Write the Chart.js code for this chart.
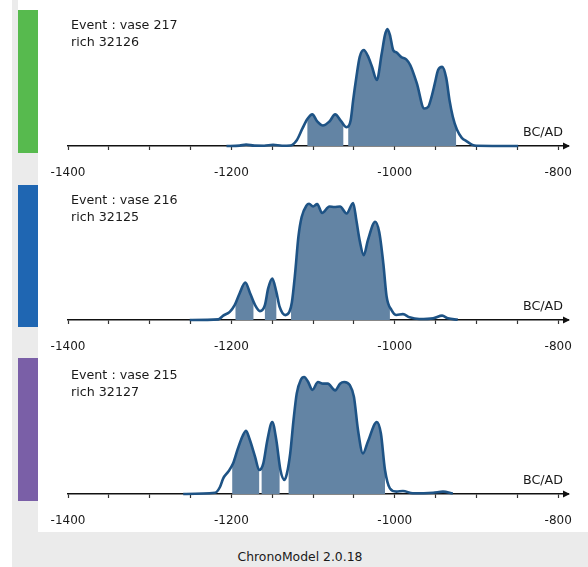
<!DOCTYPE html>
<html>
<head>
<meta charset="utf-8">
<script src="https://cdn.jsdelivr.net/npm/chart.js@4.4.1/dist/chart.umd.min.js"></script>
<style>
  html, body { margin: 0; padding: 0; background: #fff; }
  body {
    width: 588px; height: 567px; position: relative; overflow: hidden;
    font-family: "DejaVu Sans", sans-serif; font-size: 12.7px; color: #1a1a1a;
  }
  .grey { position: absolute; background: #ebebeb; }
  .bar { position: absolute; left: 18px; width: 20px; }
  canvas.panel { position: absolute; left: 38px; }
  .label { position: absolute; left: 71px; line-height: 16.5px; white-space: nowrap; }
  .era { position: absolute; left: 523px; line-height: 16px; }
  .footer { position: absolute; left: 12px; width: 576px; top: 549px; line-height: 16px; text-align: center; font-size: 12.4px; }
</style>
</head>
<body>
<div class="grey" style="left:12px;top:0;width:6px;height:567px"></div>
<div class="grey" style="left:12px;top:10px;width:26px;height:557px"></div>
<div class="grey" style="left:12px;top:532px;width:576px;height:35px"></div>

<div class="bar" style="top:10px;height:143px;background:#57ba4e"></div>
<div class="bar" style="top:185px;height:142px;background:#1f66b2"></div>
<div class="bar" style="top:358px;height:143px;background:#7a5fa7"></div>

<canvas class="panel" id="p1" width="550" height="180" style="top:6px"></canvas>
<canvas class="panel" id="p2" width="550" height="180" style="top:180px"></canvas>
<canvas class="panel" id="p3" width="550" height="180" style="top:354px"></canvas>

<div class="label" style="top:17px">Event : vase 217<br>rich 32126</div>
<div class="label" style="top:192px">Event : vase 216<br>rich 32125</div>
<div class="label" style="top:367px">Event : vase 215<br>rich 32127</div>

<div class="era" style="top:124px">BC/AD</div>
<div class="era" style="top:298px">BC/AD</div>
<div class="era" style="top:472px">BC/AD</div>

<div class="footer">ChronoModel 2.0.18</div>

<script>
// Calendar axis: minor ticks every 50 years, labels every 200 years
const tickValues = [-1400, -1350, -1300, -1250, -1200, -1150, -1100, -1050, -1000, -950, -900, -850, -800];
const tickLabels = [-1400, -1200, -1000, -800];

// vase 217 / rich 32126 : posterior density (normalised) and HPD intervals
const years217 = [-1206, -1190, -1182, -1172, -1160, -1149, -1138, -1128, -1120, -1113, -1107, -1101, -1095, -1088, -1080, -1073, -1066, -1059, -1054, -1051, -1047, -1043, -1038, -1033, -1028, -1022, -1016, -1012, -1009, -1006, -1002, -998, -992, -986, -981, -973, -964, -959, -955, -951, -947, -942, -937, -933, -929, -924, -918, -912, -905, -900, -849];
const dens217 = [0, 0.003, 0.012, 0.003, 0.002, 0.01, 0.002, 0.004, 0.05, 0.15, 0.23, 0.27, 0.21, 0.175, 0.21, 0.27, 0.215, 0.16, 0.22, 0.39, 0.59, 0.76, 0.82, 0.77, 0.68, 0.565, 0.79, 0.95, 1.0, 0.95, 0.82, 0.8, 0.76, 0.74, 0.69, 0.535, 0.32, 0.336, 0.42, 0.535, 0.65, 0.676, 0.58, 0.39, 0.25, 0.14, 0.07, 0.04, 0.01, 0.002, 0];
const hpd217 = [[-1107, -1063], [-1057, -925]];

// vase 216 / rich 32125
const years216 = [-1251, -1216, -1210, -1202, -1196, -1190, -1183, -1177, -1171, -1165, -1159, -1155, -1150, -1145, -1141, -1134, -1129, -1126, -1122, -1118, -1114, -1108, -1105, -1100, -1095, -1089, -1080, -1074, -1067, -1059, -1051, -1047, -1043, -1038, -1033, -1024, -1019, -1014, -1010, -1004, -998, -990, -982, -970, -953, -942, -935, -923];
const dens216 = [0, 0.005, 0.037, 0.07, 0.127, 0.227, 0.32, 0.227, 0.127, 0.076, 0.127, 0.27, 0.354, 0.24, 0.113, 0.042, 0.07, 0.15, 0.4, 0.71, 0.88, 0.98, 0.994, 0.97, 0.99, 0.915, 0.97, 0.966, 0.97, 0.91, 1.0, 0.85, 0.68, 0.554, 0.68, 0.84, 0.75, 0.48, 0.2, 0.085, 0.043, 0.05, 0.023, 0.008, 0.014, 0.037, 0.014, 0.003];
const hpd216 = [[-1195, -1173], [-1159, -1145], [-1127, -1006]];

// vase 215 / rich 32127
const years215 = [-1259, -1220, -1214, -1210, -1204, -1198, -1192, -1186, -1182, -1178, -1171, -1166, -1161, -1156, -1150, -1145, -1140, -1135, -1132, -1128, -1124, -1120, -1115, -1111, -1106, -1101, -1094, -1088, -1082, -1073, -1067, -1062, -1055, -1050, -1045, -1039, -1033, -1022, -1017, -1012, -1006, -998, -990, -978, -953, -941, -929];
const dens215 = [0, 0.01, 0.06, 0.134, 0.19, 0.26, 0.39, 0.5, 0.54, 0.474, 0.318, 0.205, 0.26, 0.46, 0.616, 0.46, 0.205, 0.12, 0.176, 0.347, 0.63, 0.86, 0.977, 1.0, 0.957, 0.89, 0.957, 0.943, 0.943, 0.886, 0.943, 0.957, 0.93, 0.83, 0.545, 0.347, 0.446, 0.616, 0.517, 0.205, 0.048, 0.02, 0.026, 0.006, 0.011, 0.02, 0.005];
const hpd215 = [[-1199, -1166], [-1163, -1141], [-1130, -1012]];

const LINE_COLOR = '#1e5385';
const HPD_COLOR = '#6384a4';

Chart.defaults.font.family = '"DejaVu Sans", sans-serif';
Chart.defaults.font.size = 12;
Chart.defaults.color = '#1a1a1a';

// Shades the density only inside the HPD intervals, under the curve
const hpdFill = {
  id: 'hpdFill',
  beforeDatasetsDraw(chart, args, opts) {
    const meta = chart.getDatasetMeta(0);
    const line = meta.dataset;
    const pts = meta.data;
    const xs = chart.scales.x;
    const base = chart.scales.y.getPixelForValue(0);
    const top = chart.chartArea.top - 10;
    const ctx = chart.ctx;
    ctx.save();
    ctx.beginPath();
    for (const [a, b] of opts.intervals) {
      const l = xs.getPixelForValue(a);
      const r = xs.getPixelForValue(b);
      ctx.rect(l, top, r - l, base - top);
    }
    ctx.clip();
    ctx.beginPath();
    line.path(ctx);
    ctx.lineTo(pts[pts.length - 1].x, base);
    ctx.lineTo(pts[0].x, base);
    ctx.closePath();
    ctx.fillStyle = opts.color;
    ctx.fill();
    ctx.restore();
  }
};

// Arrow head at the right end of the time axis
const axisArrow = {
  id: 'axisArrow',
  afterDraw(chart) {
    const ctx = chart.ctx;
    const x = chart.chartArea.right;
    const y = chart.scales.x.top;
    ctx.save();
    ctx.fillStyle = '#111';
    ctx.beginPath();
    ctx.moveTo(x + 2, y);
    ctx.lineTo(x - 5, y - 3.5);
    ctx.lineTo(x - 5, y + 3.5);
    ctx.closePath();
    ctx.fill();
    ctx.restore();
  }
};

function drawPanel(id, years, dens, hpd) {
  const points = years.map((x, i) => ({ x: x, y: dens[i] }));
  new Chart(document.getElementById(id), {
    type: 'line',
    data: {
      datasets: [{
        data: points,
        borderColor: LINE_COLOR,
        borderWidth: 2.6,
        fill: false,
        pointRadius: 0,
        cubicInterpolationMode: 'monotone',
        clip: false
      }]
    },
    options: {
      responsive: false,
      animation: false,
      devicePixelRatio: 1,
      events: [],
      layout: { padding: { left: 30, right: 20, top: 23, bottom: 0 } },
      plugins: {
        legend: { display: false },
        tooltip: { enabled: false },
        hpdFill: { intervals: hpd, color: HPD_COLOR }
      },
      scales: {
        x: {
          type: 'linear',
          min: -1400,
          max: -788,
          afterBuildTicks: s => { s.ticks = tickValues.map(v => ({ value: v })); },
          afterFit: s => { s.height = 40; s.paddingLeft = 0; s.paddingRight = 0; },
          ticks: {
            autoSkip: false,
            maxRotation: 0,
            padding: 16,
            color: '#1a1a1a',
            callback: v => tickLabels.includes(v) ? String(v) : ''
          },
          grid: { drawOnChartArea: false, drawTicks: true, tickLength: 4, color: '#333', tickWidth: 1.2 },
          border: { display: true, color: '#111', width: 1.5 }
        },
        y: { display: false, min: 0, max: 1 }
      }
    },
    plugins: [hpdFill, axisArrow]
  });
}

drawPanel('p1', years217, dens217, hpd217);
drawPanel('p2', years216, dens216, hpd216);
drawPanel('p3', years215, dens215, hpd215);
</script>
</body>
</html>
